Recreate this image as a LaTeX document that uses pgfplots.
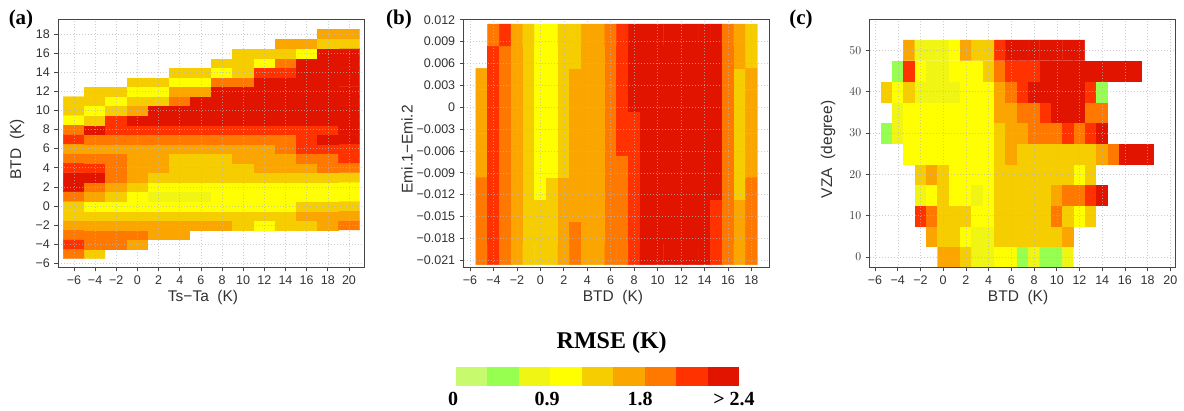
\documentclass[border=0pt]{standalone}
\usepackage{fontspec}
\setmainfont{Liberation Sans}
\newfontfamily\serifb{Liberation Serif}
\usepackage{pgfplots}
\pgfplotsset{compat=1.18}
\definecolor{c1}{RGB}{200,250,110}
\definecolor{c2}{RGB}{150,255,80}
\definecolor{c3}{RGB}{240,245,20}
\definecolor{c4}{RGB}{255,255,0}
\definecolor{c5}{RGB}{245,205,0}
\definecolor{c6}{RGB}{250,165,0}
\definecolor{c7}{RGB}{255,120,0}
\definecolor{c8}{RGB}{255,50,0}
\definecolor{c9}{RGB}{225,20,0}
\definecolor{axc}{RGB}{70,70,70}
\definecolor{txc}{RGB}{50,50,50}
\pgfplotsset{
  colormap={rmse}{rgb255=(255,255,255) rgb255=(200,250,110) rgb255=(150,255,80) rgb255=(240,245,20) rgb255=(255,255,0) rgb255=(245,205,0) rgb255=(250,165,0) rgb255=(255,120,0) rgb255=(255,50,0) rgb255=(225,20,0)},
  panel/.style={
    scale only axis, axis on top, anchor=south west,
    width=306pt, height=248.3pt,
    colormap name=rmse, colormap access=direct,
    tick align=outside, tick pos=left, major tick length=4pt,
    axis line style={axc, line width=0.9pt},
    every tick/.style={axc, line width=0.7pt},
    grid=major,
    grid style={gray!55, dash pattern=on 0.7pt off 2.3pt, line width=0.5pt, opacity=0.7},
    tick label style={font=\fontsize{12.5}{13}\selectfont, text=txc},
    xticklabel style={yshift=-1pt},
    yticklabel style={xshift=-1pt},
  },
  xlab/.style={every axis x label/.style={at={(axis description cs:#1,0)},anchor=center,yshift=-30.5pt,font=\fontsize{15.5}{16}\selectfont,text=txc}},
  ylab/.style={every axis y label/.style={at={(axis description cs:#1,0.475)},anchor=center,rotate=90,font=\fontsize{15.5}{16}\selectfont,text=txc}},
  heat/.style={matrix plot*, point meta=explicit, mesh/cols=#1, mesh/ordering=x varies},
}
\begin{document}
\begin{tikzpicture}[x=1pt,y=1pt]
\useasboundingbox (0,0) rectangle (1184,410);

% ---------- (a) ----------
\begin{axis}[panel, at={(58.3pt,142.7pt)},
  xmin=-7.48, xmax=21.45, ymin=-6.42, ymax=19.57,
  xtick={-6,-4,-2,0,2,4,6,8,10,12,14,16,18,20},
  xticklabels={−6,−4,−2,0,2,4,6,8,10,12,14,16,18,20},
  ytick={-6,-4,-2,0,2,4,6,8,10,12,14,16,18},
  yticklabels={−6,−4,−2,0,2,4,6,8,10,12,14,16,18},
  xlabel={Ts−Ta\ \ (K)}, ylabel={BTD\ \ (K)},
  xlab=0.473, ylab=-0.135,
]
\addplot[heat=14] table[row sep=\\, header=false, meta index=0,
  x expr={-6+2*mod(\coordindex,14)}, y expr={-5+floor((\coordindex+0.5)/14)}] {
7\\5\\0\\0\\0\\0\\0\\0\\0\\0\\0\\0\\0\\0\\
8\\7\\7\\6\\0\\0\\0\\0\\0\\0\\0\\0\\0\\0\\
7\\7\\7\\7\\6\\6\\0\\0\\0\\0\\0\\0\\0\\0\\
6\\6\\6\\6\\6\\6\\6\\6\\5\\4\\5\\5\\6\\7\\
5\\5\\5\\5\\5\\5\\5\\5\\5\\5\\5\\6\\6\\6\\
5\\4\\4\\4\\4\\4\\4\\4\\4\\4\\4\\5\\5\\5\\
7\\6\\5\\4\\3\\3\\3\\4\\4\\4\\4\\4\\4\\4\\
9\\7\\6\\5\\4\\4\\4\\4\\4\\4\\4\\4\\4\\4\\
9\\9\\7\\6\\5\\5\\5\\5\\5\\5\\5\\5\\5\\5\\
8\\8\\7\\6\\6\\5\\5\\5\\5\\6\\6\\6\\7\\7\\
7\\7\\7\\6\\6\\5\\5\\5\\6\\6\\6\\7\\7\\8\\
6\\6\\6\\6\\6\\6\\6\\6\\6\\6\\7\\8\\8\\8\\
8\\7\\7\\7\\7\\7\\7\\7\\7\\7\\7\\8\\9\\9\\
7\\9\\8\\8\\8\\8\\8\\8\\8\\8\\8\\8\\8\\9\\
4\\5\\8\\9\\9\\9\\9\\9\\9\\9\\9\\9\\9\\9\\
5\\4\\5\\6\\9\\9\\9\\9\\9\\9\\9\\9\\9\\9\\
5\\5\\4\\5\\5\\7\\9\\9\\9\\9\\9\\9\\9\\9\\
0\\5\\5\\4\\4\\6\\6\\9\\9\\9\\9\\9\\9\\9\\
0\\0\\0\\5\\5\\4\\4\\7\\7\\9\\9\\9\\9\\9\\
0\\0\\0\\0\\0\\5\\5\\4\\5\\8\\8\\9\\9\\9\\
0\\0\\0\\0\\0\\0\\0\\5\\5\\4\\7\\9\\9\\9\\
0\\0\\0\\0\\0\\0\\0\\0\\5\\5\\5\\4\\9\\9\\
0\\0\\0\\0\\0\\0\\0\\0\\0\\0\\6\\6\\5\\5\\
0\\0\\0\\0\\0\\0\\0\\0\\0\\0\\0\\0\\6\\6\\
};
\end{axis}

% ---------- (b) ----------
\begin{axis}[panel, at={(463.7pt,142.7pt)},
  xmin=-6.54, xmax=19.56, ymin=-0.02196, ymax=0.0121,
  xtick={-6,-4,-2,0,2,4,6,8,10,12,14,16,18},
  xticklabels={−6,−4,−2,0,2,4,6,8,10,12,14,16,18},
  ytick={-0.021,-0.018,-0.015,-0.012,-0.009,-0.006,-0.003,0,0.003,0.006,0.009,0.012},
  yticklabels={−0.021,−0.018,−0.015,−0.012,−0.009,−0.006,−0.003,0,0.003,0.006,0.009,0.012},
  scaled y ticks=false,
  xlabel={BTD\ \ (K)}, ylabel={Emi.1−Emi.2},
  xlab=0.488, ylab=-0.185,
]
\addplot[heat=24] table[row sep=\\, header=false, meta index=0,
  x expr={-5+mod(\coordindex,24)}, y expr={-0.0201+0.003*floor((\coordindex+0.5)/24)}] {
7\\8\\7\\6\\5\\5\\5\\6\\7\\6\\6\\7\\7\\8\\9\\9\\9\\9\\9\\9\\8\\7\\6\\7\\
7\\8\\7\\6\\5\\5\\5\\6\\7\\6\\6\\7\\7\\8\\9\\9\\9\\9\\9\\9\\8\\7\\6\\7\\
7\\8\\7\\6\\5\\5\\5\\6\\6\\6\\6\\7\\7\\8\\9\\9\\9\\9\\9\\9\\8\\7\\6\\7\\
7\\8\\7\\6\\5\\4\\5\\6\\6\\6\\6\\7\\7\\8\\9\\9\\9\\9\\9\\9\\9\\7\\5\\7\\
6\\8\\7\\6\\5\\4\\4\\5\\6\\6\\6\\7\\7\\8\\9\\9\\9\\9\\9\\9\\9\\7\\5\\6\\
6\\8\\7\\6\\5\\4\\4\\5\\6\\6\\6\\7\\8\\8\\9\\9\\9\\9\\9\\9\\9\\7\\5\\6\\
6\\8\\7\\6\\5\\4\\4\\5\\6\\6\\6\\7\\8\\8\\9\\9\\9\\9\\9\\9\\9\\7\\5\\6\\
6\\8\\7\\6\\5\\4\\4\\5\\6\\6\\6\\7\\8\\9\\9\\9\\9\\9\\9\\9\\9\\7\\5\\6\\
6\\8\\7\\6\\5\\4\\4\\5\\6\\6\\6\\7\\8\\9\\9\\9\\9\\9\\9\\9\\9\\7\\5\\6\\
0\\8\\7\\6\\5\\4\\4\\5\\5\\6\\6\\7\\8\\9\\9\\9\\9\\9\\9\\9\\9\\7\\6\\5\\
0\\7\\8\\6\\5\\4\\4\\5\\5\\6\\6\\7\\8\\9\\9\\9\\9\\9\\9\\9\\9\\7\\6\\5\\
};
\end{axis}

% ---------- (c) ----------
\begin{axis}[panel, at={(869.7pt,142.7pt)},
  xmin=-6.47, xmax=20.47, ymin=-2.5, ymax=57.6,
  xtick={-6,-4,-2,0,2,4,6,8,10,12,14,16,18,20},
  xticklabels={−6,−4,−2,0,2,4,6,8,10,12,14,16,18,20},
  ytick={0,10,20,30,40,50},
  xlabel={BTD\ \ (K)}, ylabel={VZA\ \ (degree)},
  xlab=0.485, ylab=-0.136,
]
\addplot[heat=24] table[row sep=\\, header=false, meta index=0,
  x expr={-5+mod(\coordindex,24)}, y expr={5*floor((\coordindex+0.5)/24)}] {
0\\0\\0\\0\\0\\6\\6\\5\\3\\3\\4\\4\\2\\3\\2\\2\\3\\0\\0\\0\\0\\0\\0\\0\\
0\\0\\0\\0\\6\\5\\5\\4\\3\\3\\5\\5\\5\\5\\5\\5\\6\\0\\0\\0\\0\\0\\0\\0\\
0\\0\\0\\8\\7\\5\\5\\5\\4\\4\\5\\5\\5\\5\\5\\7\\5\\4\\5\\0\\0\\0\\0\\0\\
0\\0\\0\\3\\4\\5\\4\\4\\3\\4\\5\\5\\5\\5\\5\\6\\7\\7\\8\\9\\0\\0\\0\\0\\
0\\0\\0\\5\\6\\5\\4\\4\\4\\4\\5\\5\\5\\5\\5\\5\\5\\4\\5\\0\\0\\0\\0\\0\\
0\\0\\4\\4\\4\\4\\4\\4\\4\\4\\5\\6\\5\\5\\5\\5\\5\\5\\5\\6\\7\\9\\9\\9\\
2\\3\\4\\4\\4\\4\\4\\4\\4\\4\\5\\6\\6\\7\\7\\7\\8\\7\\8\\9\\0\\0\\0\\0\\
0\\3\\4\\4\\4\\4\\4\\4\\4\\4\\6\\6\\7\\7\\8\\9\\9\\9\\7\\7\\0\\0\\0\\0\\
5\\4\\5\\3\\3\\3\\3\\4\\4\\4\\6\\7\\8\\9\\9\\9\\9\\9\\8\\2\\0\\0\\0\\0\\
0\\2\\8\\4\\3\\3\\4\\4\\4\\5\\7\\8\\8\\8\\9\\9\\9\\9\\9\\9\\9\\9\\9\\0\\
0\\0\\6\\3\\3\\3\\4\\6\\5\\5\\8\\9\\9\\9\\9\\9\\9\\9\\0\\0\\0\\0\\0\\0\\
};
\end{axis}

% ---------- panel labels ----------
\node[font=\serifb\bfseries\fontsize{21}{22}\selectfont] at (21,390.5) {(a)};
\node[font=\serifb\bfseries\fontsize{21}{22}\selectfont] at (399,390.5) {(b)};
\node[font=\serifb\bfseries\fontsize{21}{22}\selectfont] at (801,390.5) {(c)};

% ---------- colour key ----------
\foreach \i in {1,...,9}{
  \fill[c\i] ({455.7+(\i-1)*31.5},24) rectangle ({455.7+\i*31.5},43);
}
\node[font=\serifb\bfseries\fontsize{24}{25}\selectfont] at (611.7,67.5) {RMSE (K)};
\node[font=\serifb\bfseries\fontsize{20}{21}\selectfont] at (453,11) {0};
\node[font=\serifb\bfseries\fontsize{20}{21}\selectfont] at (547,11) {0.9};
\node[font=\serifb\bfseries\fontsize{20}{21}\selectfont] at (640,11) {1.8};
\node[font=\serifb\bfseries\fontsize{20}{21}\selectfont] at (734,11) {> 2.4};
\end{tikzpicture}
\end{document}
